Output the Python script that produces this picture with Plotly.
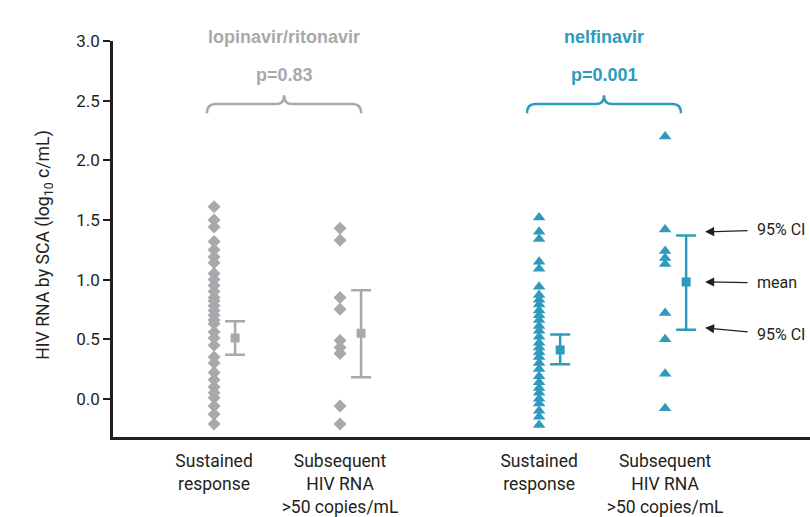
import plotly.graph_objects as go

# ---------------- data ----------------
categories = ["Sustained<br>response", "Subsequent<br>HIV RNA<br>>50 copies/mL",
              "Sustained<br>response", "Subsequent<br>HIV RNA<br>>50 copies/mL"]
positions = [1.0, 2.0, 3.58, 4.58]
groups = ["lopinavir/ritonavir", "nelfinavir"]
p_values = ["p=0.83", "p=0.001"]
y_ticks = [0.0, 0.5, 1.0, 1.5, 2.0, 2.5, 3.0]

lpv_sustained = [1.61, 1.50, 1.44, 1.32, 1.25, 1.19, 1.14, 1.05, 1.00, 0.95, 0.90,
                 0.85, 0.82, 0.78, 0.74, 0.70, 0.66, 0.63, 0.56, 0.51, 0.45, 0.35,
                 0.30, 0.22, 0.16, 0.10, 0.05, 0.01, -0.06, -0.13, -0.21]
lpv_subsequent = [1.43, 1.33, 0.85, 0.75, 0.49, 0.43, 0.38, -0.06, -0.21]
nfv_sustained = [1.52, 1.40, 1.34, 1.15, 1.09, 0.94, 0.87, 0.83, 0.79, 0.74, 0.70,
                 0.66, 0.61, 0.57, 0.52, 0.47, 0.43, 0.39, 0.35, 0.30, 0.25, 0.19,
                 0.14, 0.09, 0.05, 0.00, -0.04, -0.10, -0.15, -0.22]
nfv_subsequent = [2.20, 1.42, 1.24, 1.18, 1.13, 0.72, 0.50, 0.21, -0.08]

means = [0.51, 0.55, 0.41, 0.98]
ci_low = [0.37, 0.18, 0.29, 0.58]
ci_high = [0.65, 0.91, 0.54, 1.37]

series = [lpv_sustained, lpv_subsequent, nfv_sustained, nfv_subsequent]

GREY = "#A7A9AC"
TEAL = "#2E9BBE"
DARK = "#231F20"
colors = [GREY, GREY, TEAL, TEAL]
symbols = ["diamond", "diamond", "triangle-up", "triangle-up"]
sizes = [10, 10, 11, 11]
NARROW = "Roboto, Liberation Sans Narrow, sans-serif"
BOLD = "Liberation Sans, Arial, sans-serif"
EB_OFF = 0.167

fig = go.Figure()
for vals, pos, col, sym, sz in zip(series, positions, colors, symbols, sizes):
    fig.add_trace(go.Scatter(x=[pos] * len(vals), y=vals, mode="markers",
                             marker=dict(symbol=sym, size=sz, color=col, line=dict(width=0)),
                             showlegend=False, hoverinfo="y"))

for pos, m, lo, hi, col in zip(positions, means, ci_low, ci_high, colors):
    fig.add_trace(go.Scatter(x=[pos + EB_OFF], y=[m], mode="markers",
                             marker=dict(symbol="square", size=9, color=col, line=dict(width=0)),
                             error_y=dict(type="data", symmetric=False, array=[hi - m],
                                          arrayminus=[m - lo], color=col, thickness=2.5, width=10),
                             showlegend=False))

# braces
def brace(x0, x1, xc, yb, ym, yt, r):
    return (f"M {x0},{yb} Q {x0},{ym} {x0 + r},{ym} L {xc - r},{ym} "
            f"Q {xc},{ym} {xc},{yt} Q {xc},{ym} {xc + r},{ym} L {x1 - r},{ym} "
            f"Q {x1},{ym} {x1},{yb}")

brace_specs = [(0.944, 2.167, 1.556, GREY), (3.484, 4.706, 4.095, TEAL)]
for x0, x1, xc, col in brace_specs:
    fig.add_shape(type="path", path=brace(x0, x1, xc, 2.395, 2.471, 2.546, 0.065),
                  xref="x", yref="y", line=dict(color=col, width=2.5))

# group titles and p-values
for (x0, x1, xc, col), g, p in zip(brace_specs, groups, p_values):
    fig.add_annotation(x=xc, y=1.040, xref="x", yref="paper", text=f"<b>{g}</b>",
                       showarrow=False, font=dict(family=BOLD, size=18, color=col))
    fig.add_annotation(x=xc, y=2.714, xref="x", yref="y", text=f"<b>{p}</b>",
                       showarrow=False, font=dict(family=BOLD, size=18, color=col))

# labelled arrows for the last group
tip_x = 4.897
arrow_specs = [(ci_high[3] + 0.03, 76, -2, "95% CI"),
               (means[3], 72, 1, "mean"),
               (ci_low[3] + 0.015, 76, 7, "95% CI")]
for ty, ax, ay, label in arrow_specs:
    fig.add_annotation(x=tip_x, y=ty, xref="x", yref="y", text=label, showarrow=True,
                       ax=ax, ay=ay, arrowhead=2, arrowsize=1.4, arrowwidth=1.3,
                       arrowcolor=DARK, standoff=0, startstandoff=8,
                       font=dict(family=NARROW, size=16, color=DARK))

# y-axis title
fig.add_annotation(x=-0.1176, y=0.484, xref="paper", yref="paper",
                   text="HIV RNA by SCA (log<sub>10</sub> c/mL)", textangle=-90,
                   showarrow=False, font=dict(family=NARROW, size=17.7, color=DARK))

fig.update_layout(
    width=810, height=517,
    margin=dict(l=113, r=0, t=41, b=80),
    plot_bgcolor="white", paper_bgcolor="white",
    showlegend=False,
    xaxis=dict(range=[0.198, 5.73], showgrid=False, zeroline=False,
               showline=True, linecolor=DARK, linewidth=3,
               tickvals=positions, ticktext=categories, ticks="",
               ticklabelstandoff=6,
               tickfont=dict(family=NARROW, size=17.5, color=DARK),
               automargin=False),
    yaxis=dict(range=[-0.32, 3.0], showgrid=False, zeroline=False,
               showline=True, linecolor=DARK, linewidth=2.5,
               tickvals=y_ticks, tickformat=".1f", ticks="outside", ticklen=7,
               tickwidth=2, tickcolor=DARK,
               tickfont=dict(family=NARROW, size=17, color=DARK),
               automargin=False),
)

fig.write_html("out.html", config={"displayModeBar": False},
               post_script="document.body.style.margin='0px';")
